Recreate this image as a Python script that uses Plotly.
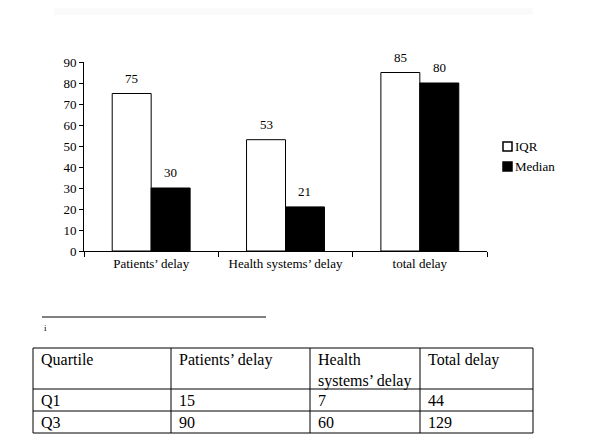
import plotly.graph_objects as go

categories = ["Patients’ delay", "Health systems’ delay", "total delay"]
iqr = [75, 53, 85]
median = [30, 21, 80]
series_names = ["IQR", "Median"]

table_header = ["Quartile", "Patients’ delay", "Health<br>systems’ delay", "Total delay"]
table_rows = [["Q1", "15", "7", "44"], ["Q3", "90", "60", "129"]]

FONT = "Liberation Serif, Times New Roman, serif"
OFF = 8  # page body margin
W, H = 600 - OFF, 447 - OFF
L, T = 84 - OFF, 62 - OFF
PW, PH = 403, 189
R, B = W - L - PW, H - T - PH

def px(x):
    return (x - OFF - L) / PW

def py(y):
    return (T + PH - (y - OFF)) / PH

BARGAP = 0.42
bw = (1 - BARGAP) / 2

fig = go.Figure()
fig.add_trace(go.Bar(x=categories, y=iqr, name=series_names[0],
                     marker=dict(color="white", line=dict(color="black", width=1)), showlegend=False))
fig.add_trace(go.Bar(x=categories, y=median, name=series_names[1],
                     marker=dict(color="black", line=dict(color="black", width=1)), showlegend=False))

shapes = []
annotations = []

# value labels above bars
for i, (a, m) in enumerate(zip(iqr, median)):
    for val, dx in ((a, -bw / 2), (m, bw / 2)):
        annotations.append(dict(text=str(val), x=i + dx, y=val, xref="x", yref="y", yanchor="bottom",
                                yshift=6, showarrow=False, font=dict(size=13, family=FONT, color="black")))

# manual legend
legend_fills = ["white", "black"]
for k, name in enumerate(series_names):
    top = 142 + 20 * k
    shapes.append(dict(type="rect", xref="paper", yref="paper", x0=px(503), x1=px(512), y0=py(top), y1=py(top + 9),
                       fillcolor=legend_fills[k], line=dict(color="black", width=1.5)))
    annotations.append(dict(text=name, xref="paper", yref="paper", x=px(513), y=py(top + 4.5), xanchor="left",
                            yanchor="middle", showarrow=False, font=dict(size=13, family=FONT, color="black")))

# faint band at top
shapes.append(dict(type="rect", xref="paper", yref="paper", x0=px(54), x1=px(533), y0=py(0), y1=py(15),
                   fillcolor="#fafafa", line=dict(width=0), layer="below"))
# footnote line
shapes.append(dict(type="line", xref="paper", yref="paper", x0=px(42), x1=px(266), y0=py(317), y1=py(317),
                   line=dict(color="black", width=1)))
annotations.append(dict(text="i", xref="paper", yref="paper", x=px(42), y=py(328), xanchor="left", yanchor="middle",
                        showarrow=False, font=dict(size=9, family=FONT, color="black")))

# table
col_edges = [33, 171, 310, 420, 533]
row_edges = [348, 389, 411, 433]
shapes.append(dict(type="rect", xref="paper", yref="paper", x0=px(col_edges[0]), x1=px(col_edges[-1]),
                   y0=py(row_edges[0]), y1=py(row_edges[-1]), line=dict(color="black", width=1)))
for ce in col_edges[1:-1]:
    shapes.append(dict(type="line", xref="paper", yref="paper", x0=px(ce), x1=px(ce),
                       y0=py(row_edges[0]), y1=py(row_edges[-1]), line=dict(color="black", width=1)))
for re in row_edges[1:-1]:
    shapes.append(dict(type="line", xref="paper", yref="paper", x0=px(col_edges[0]), x1=px(col_edges[-1]),
                       y0=py(re), y1=py(re), line=dict(color="black", width=1)))
all_rows = [table_header] + table_rows
for ri, row in enumerate(all_rows):
    for ci, cell in enumerate(row):
        annotations.append(dict(text=cell, xref="paper", yref="paper", x=px(col_edges[ci] + 6),
                                y=py(row_edges[ri] + 1), xanchor="left", yanchor="top", align="left",
                                showarrow=False, font=dict(size=16, family=FONT, color="black")))

fig.update_layout(
    width=W, height=H,
    margin=dict(l=L, r=R, t=T, b=B),
    plot_bgcolor="white", paper_bgcolor="white",
    font=dict(family=FONT, size=13, color="black"),
    barmode="group", bargap=BARGAP, bargroupgap=0,
    showlegend=False,
    shapes=shapes, annotations=annotations,
)
fig.update_yaxes(range=[0, 90], dtick=10, showline=True, linecolor="black", linewidth=1,
                 ticks="outside", ticklen=4, tickcolor="black", showgrid=False, zeroline=False,
                 tickfont=dict(size=13))
fig.update_xaxes(showline=True, linecolor="black", linewidth=1, ticks="outside", ticklen=5,
                 tickcolor="black", tickson="boundaries", showgrid=False, tickfont=dict(size=13))

fig.write_html("out.html")
